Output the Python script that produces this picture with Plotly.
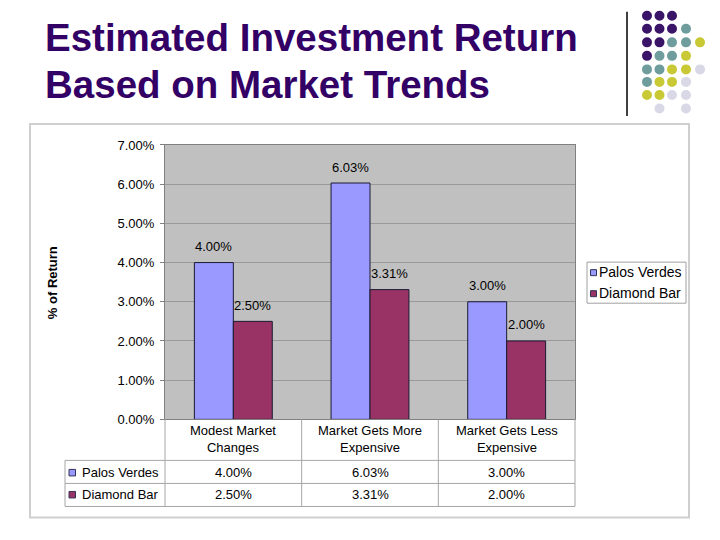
import plotly.graph_objects as go

# ---- data ----
categories = ["Modest Market<br>Changes", "Market Gets More<br>Expensive", "Market Gets Less<br>Expensive"]
series_names = ["Palos Verdes", "Diamond Bar"]
palos_verdes = [4.00, 6.03, 3.00]
diamond_bar = [2.50, 3.31, 2.00]
y_ticks = [0, 1, 2, 3, 4, 5, 6, 7]
title_lines = ["Estimated Investment Return", "Based on Market Trends"]
y_title = "% of Return"

colors = ["#9999FF", "#993366"]
W, H = 720, 540
FONT = "Liberation Sans, Arial, sans-serif"

# observed rendering offset / height of the page in the viewer
T0, HR = 7.2, 524.3


def X(px):
    return px / W


def Y(py):
    return 1 - (py - T0) / HR


BAR_HALF = 19.5  # px offset of each bar centre from the category centre

fig = go.Figure()
for name, vals, col in zip(series_names, [palos_verdes, diamond_bar], colors):
    fig.add_trace(go.Bar(
        x=categories, y=vals, name=name,
        marker=dict(color=col, line=dict(color="#1a1a33", width=1)),
    ))

shapes = []
annotations = []

# value labels above bars
for si, vals in enumerate([palos_verdes, diamond_bar]):
    for c, v in zip(categories, vals):
        annotations.append(dict(text=f"{v:.2f}%", xref="x", yref="y", x=c, y=v,
                                xshift=(-BAR_HALF if si == 0 else BAR_HALF), yshift=16,
                                xanchor="center", yanchor="middle", showarrow=False,
                                font=dict(family=FONT, size=13, color="black")))

# outer chart box
shapes.append(dict(type="rect", xref="paper", yref="paper", x0=X(30), x1=X(689), y0=Y(517), y1=Y(124),
                   line=dict(color="#cfcfcf", width=2), layer="below"))

# decorative vertical line
shapes.append(dict(type="line", xref="paper", yref="paper", x0=X(627), x1=X(627), y0=Y(116), y1=Y(12),
                   line=dict(color="black", width=1.5)))

# decorative dots
dot_cols = [647, 659.5, 672, 686, 700]
dot_rows = [16, 29, 42.5, 56, 69.5, 82, 95, 108.5]
pattern = [
    "PPP..",
    "PPPT.",
    "PPTTY",
    "PTTY.",
    "TTYYL",
    "TYYL.",
    "YYLL.",
    ".L.L.",
]
dot_color = {"P": "#3a1466", "T": "#6f9c9c", "Y": "#c9c935", "L": "#d8d8e6"}
r = 5
for ri, row in enumerate(pattern):
    for ci, ch in enumerate(row):
        if ch == ".":
            continue
        cx, cy = dot_cols[ci], dot_rows[ri]
        shapes.append(dict(type="circle", xref="paper", yref="paper",
                           x0=X(cx - r), x1=X(cx + r), y0=Y(cy + r), y1=Y(cy - r),
                           fillcolor=dot_color[ch], line=dict(width=0)))

# title
title_y = [37.5, 84.5]
for t, ty in zip(title_lines, title_y):
    annotations.append(dict(text=t, xref="paper", yref="paper", x=X(43), y=Y(ty),
                            xanchor="left", yanchor="middle", showarrow=False,
                            font=dict(family=FONT, size=38.5, color="#330066", weight="bold")))

# y axis title
annotations.append(dict(text=y_title, xref="paper", yref="paper", x=X(52), y=Y(282),
                        xanchor="center", yanchor="middle", showarrow=False, textangle=-90,
                        font=dict(family=FONT, size=13, color="black", weight="bold")))

# data table
grid = dict(color="#a6a6a6", width=1)
x_left, x_plot0, x_plot1 = 65, 165, 575
col_bounds = [165, 165 + 410 / 3, 165 + 820 / 3, 575]
for xb in col_bounds:
    shapes.append(dict(type="line", xref="paper", yref="paper", x0=X(xb), x1=X(xb), y0=Y(506), y1=Y(419),
                       line=grid))
shapes.append(dict(type="line", xref="paper", yref="paper", x0=X(x_left), x1=X(x_left), y0=Y(506), y1=Y(460),
                   line=grid))
for yb in [460, 483, 506]:
    shapes.append(dict(type="line", xref="paper", yref="paper", x0=X(x_left), x1=X(x_plot1), y0=Y(yb), y1=Y(yb),
                       line=grid))

tfont = dict(family=FONT, size=13, color="black")
for c in categories:
    annotations.append(dict(text=c, xref="x", yref="paper", x=c, y=Y(439), xanchor="center", yanchor="middle",
                            showarrow=False, font=tfont))
row_y = [472, 494]
for name, vals, col, ry in zip(series_names, [palos_verdes, diamond_bar], colors, row_y):
    shapes.append(dict(type="rect", xref="paper", yref="paper", x0=X(69), x1=X(75.5), y0=Y(ry + 3.5),
                       y1=Y(ry - 3), fillcolor=col, line=dict(color="#333355", width=1)))
    annotations.append(dict(text=name, xref="paper", yref="paper", x=X(80), y=Y(ry), xanchor="left",
                            yanchor="middle", showarrow=False, font=tfont))
    for c, v in zip(categories, vals):
        annotations.append(dict(text=f"{v:.2f}%", xref="x", yref="paper", x=c, y=Y(ry), xanchor="center",
                                yanchor="middle", showarrow=False, font=tfont))

# legend (drawn)
shapes.append(dict(type="rect", xref="paper", yref="paper", x0=X(587), x1=X(686), y0=Y(303), y1=Y(262),
                   line=dict(color="#a0a0a0", width=1), fillcolor="white"))
leg_y = [272, 293]
for name, col, ly in zip(series_names, colors, leg_y):
    shapes.append(dict(type="rect", xref="paper", yref="paper", x0=X(590.5), x1=X(596.5), y0=Y(ly + 3.5),
                       y1=Y(ly - 2.5), fillcolor=col, line=dict(color="#333355", width=1)))
    annotations.append(dict(text=name, xref="paper", yref="paper", x=X(597), y=Y(ly), xanchor="left",
                            yanchor="middle", showarrow=False, font=dict(family=FONT, size=14, color="black")))

fig.update_layout(
    width=W, height=H, margin=dict(l=0, r=0, t=0, b=0),
    paper_bgcolor="white", plot_bgcolor="#C0C0C0",
    showlegend=False, barmode="group", bargap=0.43, bargroupgap=0,
    font=dict(family=FONT, size=13, color="black"),
    shapes=shapes, annotations=annotations,
    xaxis=dict(domain=[X(165), X(575)], type="category", showticklabels=False, ticks="",
               showline=True, linecolor="#808080", linewidth=1, mirror=True, showgrid=False, fixedrange=True),
    yaxis=dict(domain=[Y(419), Y(145)], range=[0, 7], tickvals=y_ticks,
               ticktext=[f"{t:.2f}%" for t in y_ticks], ticks="outside", ticklen=4, tickcolor="#808080",
               showline=True, linecolor="#808080", linewidth=1, mirror=True,
               showgrid=True, gridcolor="#999999", gridwidth=1, zeroline=False,
               tickfont=dict(family=FONT, size=13, color="black"), ticklabelstandoff=3, fixedrange=True),
)

fig.write_html("out.html", config={"displayModeBar": False},
               post_script="document.body.style.margin='0';document.body.style.overflow='hidden';")
